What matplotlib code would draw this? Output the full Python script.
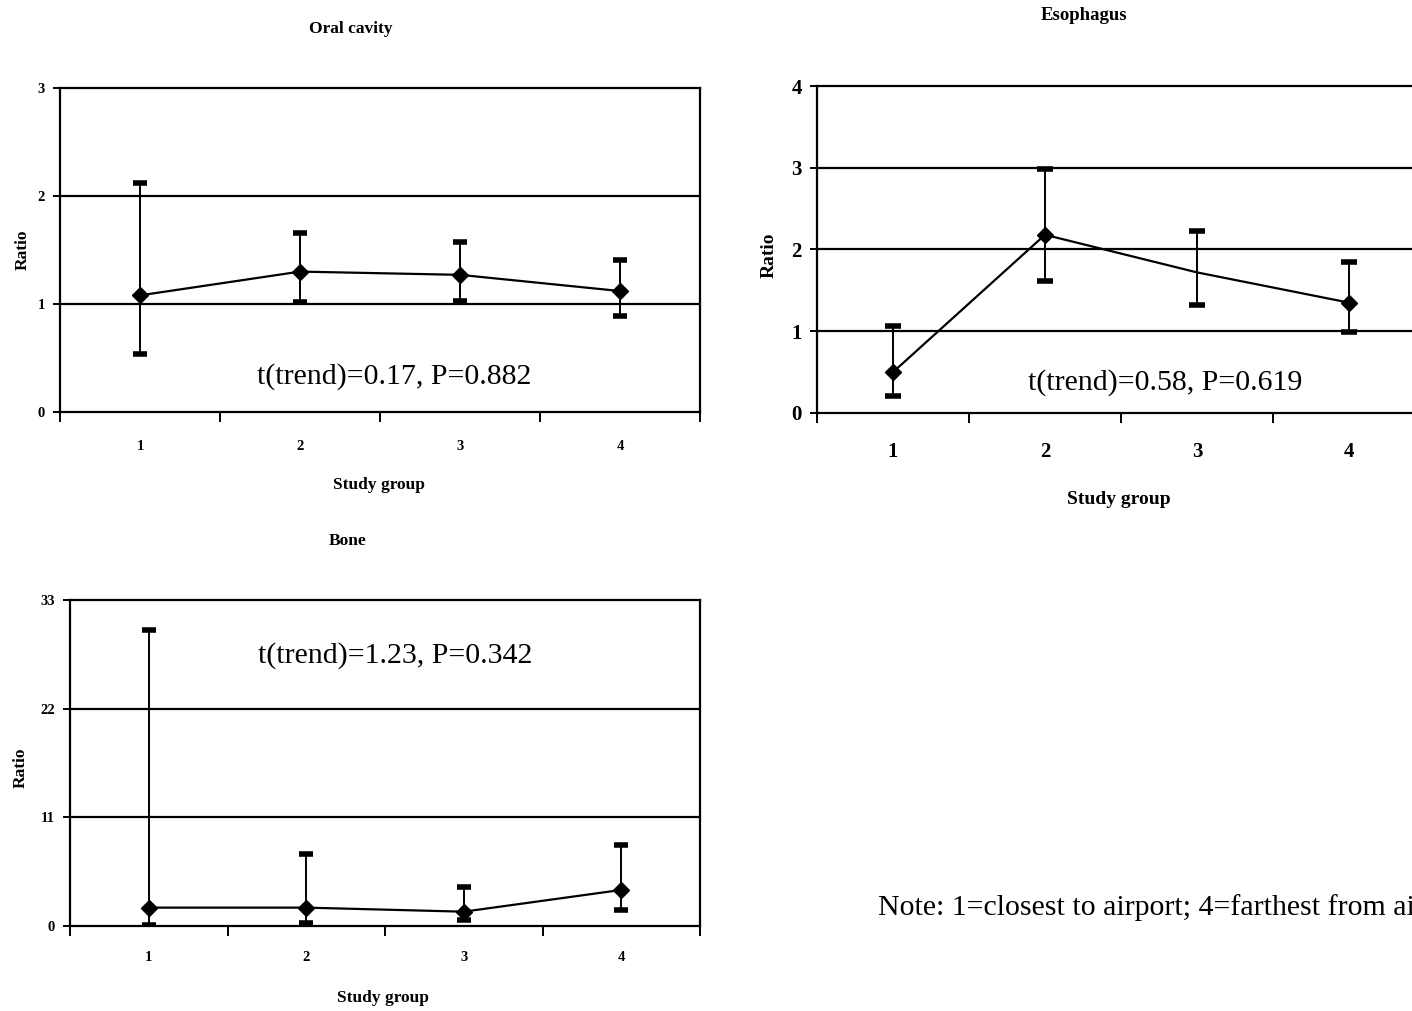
import matplotlib
matplotlib.use("Agg")
import matplotlib.pyplot as plt
import numpy as np

plt.rcParams['font.family'] = ['Liberation Serif', 'DejaVu Serif']

groups = [1, 2, 3, 4]

oral_ratio = [1.08, 1.30, 1.27, 1.12]
oral_upper = [2.12, 1.66, 1.57, 1.41]
oral_lower = [0.54, 1.02, 1.03, 0.89]

eso_ratio = [0.50, 2.18, 1.72, 1.35]
eso_upper = [1.07, 2.99, 2.23, 1.85]
eso_lower = [0.21, 1.61, 1.32, 0.99]

bone_ratio = [1.86, 1.86, 1.45, 3.65]
bone_upper = [30.0, 7.3, 3.9, 8.2]
bone_lower = [0.07, 0.27, 0.6, 1.6]

W, H = 1412, 1011
fig = plt.figure(figsize=(W / 100, H / 100), dpi=100)


def px_axes(x0, y0, x1, y1):
    return fig.add_axes([x0 / W, 1 - y1 / H, (x1 - x0) / W, (y1 - y0) / H])


def panel(ax, ratio, upper, lower, yticks, title, title_xy, note, note_xy,
          tick_fs, label_fs, title_fs, xtick_pad, xlabel_xy, ylabel_xy,
          markevery=None, capsize=5):
    ratio = np.array(ratio)
    yerr = [ratio - np.array(lower), np.array(upper) - ratio]
    ax.errorbar(groups, ratio, yerr=yerr, fmt='none', ecolor='black', elinewidth=1.4,
                capsize=capsize, capthick=4, zorder=3)
    ax.plot(groups, ratio, color='black', lw=1.6, marker='D', markersize=8,
            markevery=markevery, zorder=4)
    ax.set_xlim(0.5, 4.5)
    ax.set_ylim(yticks[0], yticks[-1])
    ax.set_yticks(yticks)
    ax.set_yticklabels([str(v) for v in yticks], fontweight='bold', fontsize=tick_fs)
    ax.set_xticks([0.5, 1.5, 2.5, 3.5, 4.5])
    ax.set_xticklabels([])
    ax.set_xticks(groups, minor=True)
    ax.set_xticklabels([str(g) for g in groups], minor=True, fontweight='bold',
                       fontsize=tick_fs)
    ax.tick_params(axis='x', which='minor', length=0, pad=xtick_pad)
    ax.tick_params(axis='x', which='major', length=7, width=1.4, direction='out')
    ax.tick_params(axis='y', length=5, width=1.4, direction='out', pad=6)
    for y in yticks[1:-1]:
        ax.axhline(y, color='black', lw=1.6, zorder=1)
    for s in ax.spines.values():
        s.set_linewidth(1.6)
    ax.set_ylabel('Ratio', fontweight='bold', fontsize=label_fs)
    ax.yaxis.set_label_coords(*ylabel_xy)
    ax.yaxis.label.set_va('center')
    ax.set_xlabel('Study group', fontweight='bold', fontsize=label_fs)
    ax.xaxis.set_label_coords(*xlabel_xy)
    ax.xaxis.label.set_va('center')
    fig.text(title_xy[0] / W, 1 - title_xy[1] / H, title, fontweight='bold',
             fontsize=title_fs, ha='center', va='center')
    ax.text(note_xy[0], note_xy[1], note, transform=ax.transAxes, fontsize=21.5,
            ha='left', va='center')


ax1 = px_axes(60, 88, 700, 412)
panel(ax1, oral_ratio, oral_upper, oral_lower, [0, 1, 2, 3], 'Oral cavity', (351, 29),
      't(trend)=0.17, P=0.882', (0.308, 0.11), 10.5, 12.5, 12.5, 20,
      (0.498, -0.225), (-0.058, 0.5))

ax2 = px_axes(817, 86, 1425, 413)
panel(ax2, eso_ratio, eso_upper, eso_lower, [0, 1, 2, 3, 4], 'Esophagus', (1084, 15),
      't(trend)=0.58, P=0.619', (0.347, 0.093), 15, 14, 13.5, 21,
      (0.497, -0.266), (-0.079, 0.483), markevery=[0, 1, 3], capsize=6)

ax3 = px_axes(70, 600, 700, 926)
panel(ax3, bone_ratio, bone_upper, bone_lower, [0, 11, 22, 33], 'Bone', (348, 541),
      't(trend)=1.23, P=0.342', (0.298, 0.83), 10.5, 12.5, 12.5, 18,
      (0.497, -0.221), (-0.079, 0.485))

fig.text(878 / W, 1 - 908 / H, 'Note: 1=closest to airport; 4=farthest from airport',
         fontsize=21.5, ha='left', va='center')

fig.savefig('out.png', dpi=100)
